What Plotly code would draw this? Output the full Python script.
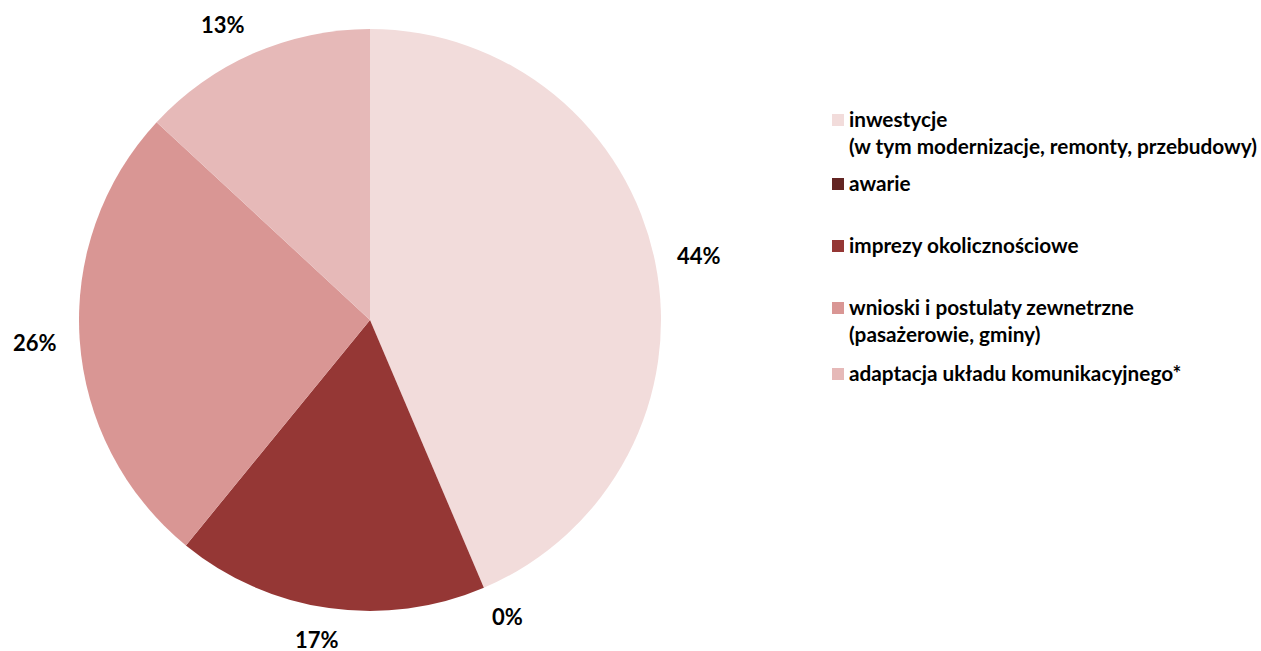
import math
import plotly.graph_objects as go

categories = [
    "inwestycje<br>(w tym modernizacje, remonty, przebudowy)",
    "awarie",
    "imprezy okolicznościowe",
    "wnioski i postulaty zewnetrzne<br>(pasażerowie, gminy)",
    "adaptacja układu komunikacyjnego*",
]
values = [43.6, 0.0, 17.3, 26.0, 13.1]
colors = ["#F2DCDB", "#632523", "#953735", "#D99694", "#E6B9B8"]

W, H = 1261, 651
cx, cy, R = 370, 320, 291
R_ANCHOR = 313.6
HALF_H = 9
CHAR_W = 7.3

fig = go.Figure()
fig.add_trace(go.Pie(
    labels=categories,
    values=values,
    sort=False,
    direction="clockwise",
    rotation=0,
    marker=dict(colors=colors, line=dict(width=0)),
    textinfo="none",
    showlegend=False,
    hoverinfo="label+percent",
    domain=dict(x=[(cx - R) / W, (cx + R) / W],
                y=[(H - cy - R) / H, (H - cy + R) / H]),
))

# percentage labels placed just outside each slice's mid-angle
total = sum(values)
cum = 0.0
for v in values:
    mid = (cum + v / 2) / total * 2 * math.pi
    cum += v
    s, c = math.sin(mid), math.cos(mid)
    txt = f"{round(v / total * 100):d}%"
    hw = CHAR_W * len(txt)
    px = cx + R_ANCHOR * s + hw * math.copysign(min(1.0, 2.8 * abs(s)), s)
    py = cy - R_ANCHOR * c - HALF_H * c
    fig.add_annotation(xref="paper", yref="paper", x=px / W, y=(H - py) / H,
                       xanchor="center", yanchor="middle", showarrow=False,
                       borderpad=0,
                       text=txt,
                       font=dict(family="Lato", size=22, color="#000000", weight="bold"))

# custom legend (marker aligned with first text line)
legend_rows = [120, 184, 246, 308, 374]
for lab, col, yy in zip(categories, colors, legend_rows):
    fig.add_shape(type="rect", xref="paper", yref="paper",
                  x0=832 / W, x1=844 / W,
                  y0=(H - yy - 6) / H, y1=(H - yy + 6) / H,
                  fillcolor=col, line=dict(width=0))
    fig.add_annotation(xref="paper", yref="paper", x=847 / W, y=(H - yy + 15) / H,
                       xanchor="left", yanchor="top", align="left", showarrow=False,
                       text=lab,
                       font=dict(family="Lato", size=20.75, color="#000000", weight="bold"))

fig.update_layout(
    width=W, height=H,
    margin=dict(l=0, r=0, t=0, b=0),
    paper_bgcolor="white", plot_bgcolor="white",
)
fig.write_html("out.html",
               config={"displayModeBar": False},
               post_script="document.body.style.margin='0';document.body.style.overflow='hidden';")
